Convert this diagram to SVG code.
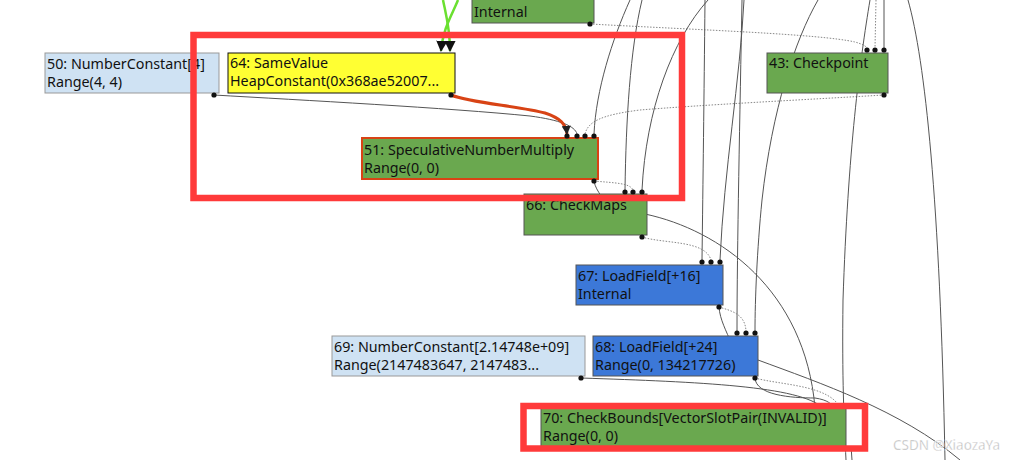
<svg xmlns="http://www.w3.org/2000/svg" width="1015" height="460" viewBox="0 0 1015 460">
<defs>
<style>
.n{stroke:#555;stroke-width:1}
.g{fill:#6aa84f}
.b{fill:#3c78d8}
.lb{fill:#cfe2f3;stroke:#999}
.t{font-family:"Noto Sans","Open Sans",sans-serif;font-size:14.3px;fill:#111}
.e{fill:none;stroke:#555;stroke-width:1}
.d{fill:none;stroke:#888;stroke-width:1;stroke-dasharray:1.5 1.5}
.ge{fill:none;stroke:#6ae030;stroke-width:2.5}
.hl{fill:none;stroke:#ff3a3a;stroke-width:6.5}
.dot{fill:#111}
</style>
<marker id="ah" viewBox="0 0 10 10" refX="9" refY="5" markerWidth="4.5" markerHeight="4.5" orient="auto" markerUnits="strokeWidth">
<path d="M0,0 L10,5 L0,10 z" fill="#111"/>
</marker>
<marker id="ahr" viewBox="0 0 10 10" refX="9" refY="5" markerWidth="3" markerHeight="3" orient="auto" markerUnits="strokeWidth">
<path d="M0,0 L10,5 L0,10 z" fill="#222"/>
</marker>
</defs>
<rect width="1015" height="460" fill="#fff"/>
<g id="connectors">
<path class="ge" d="M458 0 C452 15,443 28,441 51" marker-end="url(#ah)"/>
<path class="ge" d="M443 0 C446 15,450 28,450 51" marker-end="url(#ah)"/>
<path class="e" d="M214 95 C300 100,450 108,530 116 C560 120,575 126,577 134"/>
<path fill="none" stroke="#d84315" stroke-width="3" d="M451 95 C470 103,520 106,545 113 C560 118,566 124,567 134" marker-end="url(#ahr)"/>
<path class="d" d="M884 95 C800 100,700 105,640 110 C600 115,588 122,585 134"/>
<path class="d" d="M590 24 C700 30,820 34,855 42 C862 44,866 46,867 48"/>
<path class="d" d="M876 0 L875 48"/>
<path class="e" d="M884 0 L884 48"/>
<path class="e" d="M630 0 C612 40,596 90,594 134"/>
<path class="e" d="M642 0 C630 50,626 120,625 190"/>
<path class="e" d="M708 0 C672 40,646 110,642 190"/>
<path class="e" d="M705 0 C704 100,703 180,702 260"/>
<path class="e" d="M744 0 C740 80,724 170,720 260"/>
<path class="e" d="M742 0 C740 110,737 250,737 331"/>
<path class="e" d="M818 0 C795 40,772 110,762 200 C757 250,755 300,755 331"/>
<path class="e" d="M870 0 C860 60,848 150,843 300 C842 380,844 420,846 460"/>
<path class="e" d="M908 0 C925 60,940 200,945 460"/>
<path class="d" d="M594 181 C615 183,630 183,633 190"/>
<path class="e" d="M594 181 C595 187,598 191,601 196"/>
<path class="d" d="M642 237 C665 244,705 240,711 260"/>
<path class="e" d="M645 214 C720 230,805 290,815 408"/>
<path class="d" d="M719 307 C732 311,745 314,746 331"/>
<path class="e" d="M719 307 C720 320,726 330,732 345"/>
<path class="e" d="M758 360 C820 383,900 410,960 460"/>
<path class="e" d="M581 378 C700 382,800 386,823 408"/>
<path class="e" d="M755 378 C756 395,790 398,815 398 C828 400,832 404,833 408"/>
<path class="d" d="M755 378 C780 385,830 385,840 408"/>
<path class="e" d="M851 446 L852 460"/>
</g>
<g id="n-internal">
<rect class="n g" x="472" y="-10" width="122" height="33"/>
<text class="t" x="474" y="17">Internal</text>
<circle class="dot" cx="590" cy="24" r="2.6"/>
</g>
<g id="n50">
<rect class="lb" x="45" y="53" width="174" height="40"/>
<text class="t" x="47" y="69">50: NumberConstant[4]</text>
<text class="t" x="47" y="87">Range(4, 4)</text>
<circle class="dot" cx="214" cy="95" r="2.6"/>
</g>
<g id="n64">
<rect x="228" y="53" width="227" height="40" fill="#ffff33" stroke="#111" stroke-width="1"/>
<text class="t" x="230" y="68">64: SameValue</text>
<text class="t" x="230" y="86">HeapConstant(0x368ae52007...</text>
<circle class="dot" cx="451" cy="95" r="2.6"/>
</g>
<g id="n43">
<rect class="n g" x="767" y="53" width="121" height="40"/>
<text class="t" x="769" y="68">43: Checkpoint</text>
<circle class="dot" cx="867" cy="50" r="2.6"/>
<circle class="dot" cx="875" cy="50" r="2.6"/>
<circle class="dot" cx="884" cy="50" r="2.6"/>
<circle class="dot" cx="884" cy="95" r="2.6"/>
</g>
<g id="n51">
<rect x="362" y="138" width="236" height="41" fill="#6aa84f" stroke="#d84315" stroke-width="2"/>
<text class="t" x="364" y="155">51: SpeculativeNumberMultiply</text>
<text class="t" x="364" y="173">Range(0, 0)</text>
<circle class="dot" cx="567" cy="136" r="2.6"/>
<circle class="dot" cx="577" cy="136" r="2.6"/>
<circle class="dot" cx="585" cy="136" r="2.6"/>
<circle class="dot" cx="594" cy="136" r="2.6"/>
<circle class="dot" cx="594" cy="181" r="2.6"/>
</g>
<g id="n66">
<rect class="n g" x="524" y="194" width="123" height="41"/>
<text class="t" x="526" y="210">66: CheckMaps</text>
<circle class="dot" cx="625" cy="192" r="2.6"/>
<circle class="dot" cx="633" cy="192" r="2.6"/>
<circle class="dot" cx="642" cy="192" r="2.6"/>
<circle class="dot" cx="642" cy="237" r="2.6"/>
</g>
<g id="n67">
<rect class="n b" x="576" y="265" width="147" height="40"/>
<text class="t" x="578" y="281">67: LoadField[+16]</text>
<text class="t" x="578" y="299">Internal</text>
<circle class="dot" cx="702" cy="262" r="2.6"/>
<circle class="dot" cx="711" cy="262" r="2.6"/>
<circle class="dot" cx="720" cy="262" r="2.6"/>
<circle class="dot" cx="719" cy="307" r="2.6"/>
</g>
<g id="n69">
<rect class="lb" x="332" y="336" width="253" height="40"/>
<text class="t" x="334" y="352">69: NumberConstant[2.14748e+09]</text>
<text class="t" x="334" y="370">Range(2147483647, 2147483...</text>
<circle class="dot" cx="581" cy="378" r="2.6"/>
</g>
<g id="n68">
<rect class="n b" x="593" y="336" width="165" height="40"/>
<text class="t" x="595" y="352">68: LoadField[+24]</text>
<text class="t" x="595" y="370">Range(0, 134217726)</text>
<circle class="dot" cx="737" cy="333" r="2.6"/>
<circle class="dot" cx="746" cy="333" r="2.6"/>
<circle class="dot" cx="755" cy="333" r="2.6"/>
<circle class="dot" cx="755" cy="378" r="2.6"/>
</g>
<g id="n70">
<rect class="n g" x="541" y="407" width="305" height="42"/>
<text class="t" x="543" y="423">70: CheckBounds[VectorSlotPair(INVALID)]</text>
<text class="t" x="543" y="441">Range(0, 0)</text>
</g>
<g id="highlights">
<rect class="hl" x="193.5" y="35" width="488.5" height="163"/>
<rect class="hl" x="523.5" y="406" width="341.5" height="42.5"/>
</g>
<text x="893" y="450" font-family="'Noto Sans','Open Sans',sans-serif" font-size="13.5" fill="#b4b4b4" stroke="#fff" stroke-width="0.4">CSDN @XiaozaYa</text>
</svg>
